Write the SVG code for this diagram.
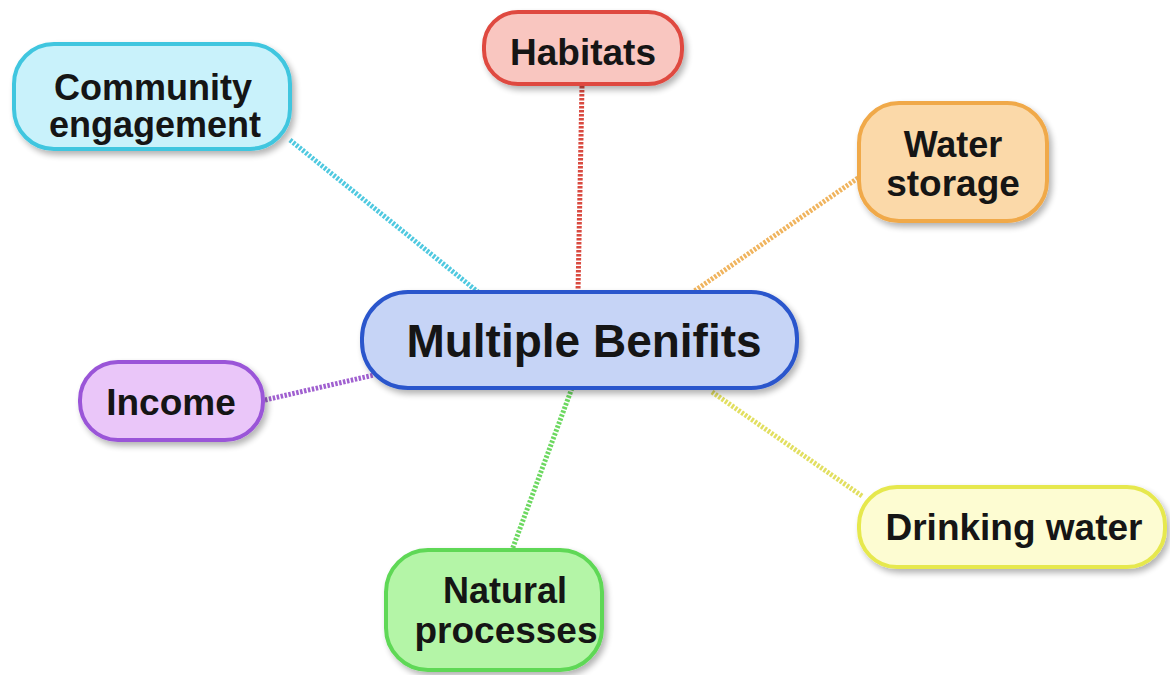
<svg xmlns="http://www.w3.org/2000/svg" width="1170" height="675" viewBox="0 0 1170 675">
<defs>
<filter id="sh" x="-10%" y="-10%" width="125%" height="135%">
<feGaussianBlur in="SourceAlpha" stdDeviation="3"/>
<feOffset dx="3" dy="4" result="b"/>
<feComponentTransfer><feFuncA type="linear" slope="0.3"/></feComponentTransfer>
<feMerge><feMergeNode/><feMergeNode in="SourceGraphic"/></feMerge>
</filter>
</defs>
<style>
.box{stroke-width:4;filter:url(#sh)}
.t{font-family:"Liberation Sans",Arial,sans-serif;font-weight:bold;fill:#151515;text-anchor:middle}
.c{fill:none;stroke-width:5;stroke-dasharray:2.5 1.5}
</style>
<rect width="1170" height="675" fill="#ffffff"/>
<g id="connectors">
<line class="c" x1="290" y1="140" x2="478" y2="292" stroke="#4fc9e0"/>
<line class="c" x1="582" y1="86" x2="578" y2="292" stroke="#d94a40"/>
<line class="c" x1="858" y1="178" x2="693" y2="292" stroke="#f0b45e"/>
<line class="c" x1="265" y1="400" x2="374" y2="375" stroke="#a060d0"/>
<line class="c" x1="712" y1="392" x2="862" y2="496" stroke="#e2df60"/>
<line class="c" x1="572" y1="388" x2="512" y2="550" stroke="#6cd860"/>
</g>
<g id="community">
<rect class="box" x="14" y="44" width="276" height="105" rx="40" fill="#c9f2fb" stroke="#3fc6df"/>
<text class="t" x="153" y="100" font-size="36">Community</text>
<text class="t" x="155" y="137" font-size="36">engagement</text>
</g>
<g id="habitats">
<rect class="box" x="484" y="12" width="198" height="72" rx="34" fill="#f9c6c0" stroke="#df4a40"/>
<text class="t" x="583" y="65" font-size="37">Habitats</text>
</g>
<g id="water-storage">
<rect class="box" x="859" y="103" width="188" height="118" rx="40" fill="#fbd9a9" stroke="#f0a94a"/>
<text class="t" x="953" y="157" font-size="36">Water</text>
<text class="t" x="953" y="196" font-size="37">storage</text>
</g>
<g id="central">
<rect class="box" x="362" y="292" width="435" height="96" rx="46" fill="#c6d4f6" stroke="#2c56cc"/>
<text class="t" x="584" y="357" font-size="46">Multiple Benifits</text>
</g>
<g id="income">
<rect class="box" x="80" y="362" width="183" height="78" rx="38" fill="#eac6f9" stroke="#9a55d8"/>
<text class="t" x="171" y="415" font-size="37">Income</text>
</g>
<g id="drinking-water">
<rect class="box" x="859" y="487" width="306" height="80" rx="38" fill="#fdfcd2" stroke="#e6e84e"/>
<text class="t" x="1014" y="540" font-size="37">Drinking water</text>
</g>
<g id="natural-processes">
<rect class="box" x="386" y="550" width="216" height="120" rx="42" fill="#b4f5a7" stroke="#5ed856"/>
<text class="t" x="505" y="603" font-size="36">Natural</text>
<text class="t" x="506" y="643" font-size="37">processes</text>
</g>
</svg>
